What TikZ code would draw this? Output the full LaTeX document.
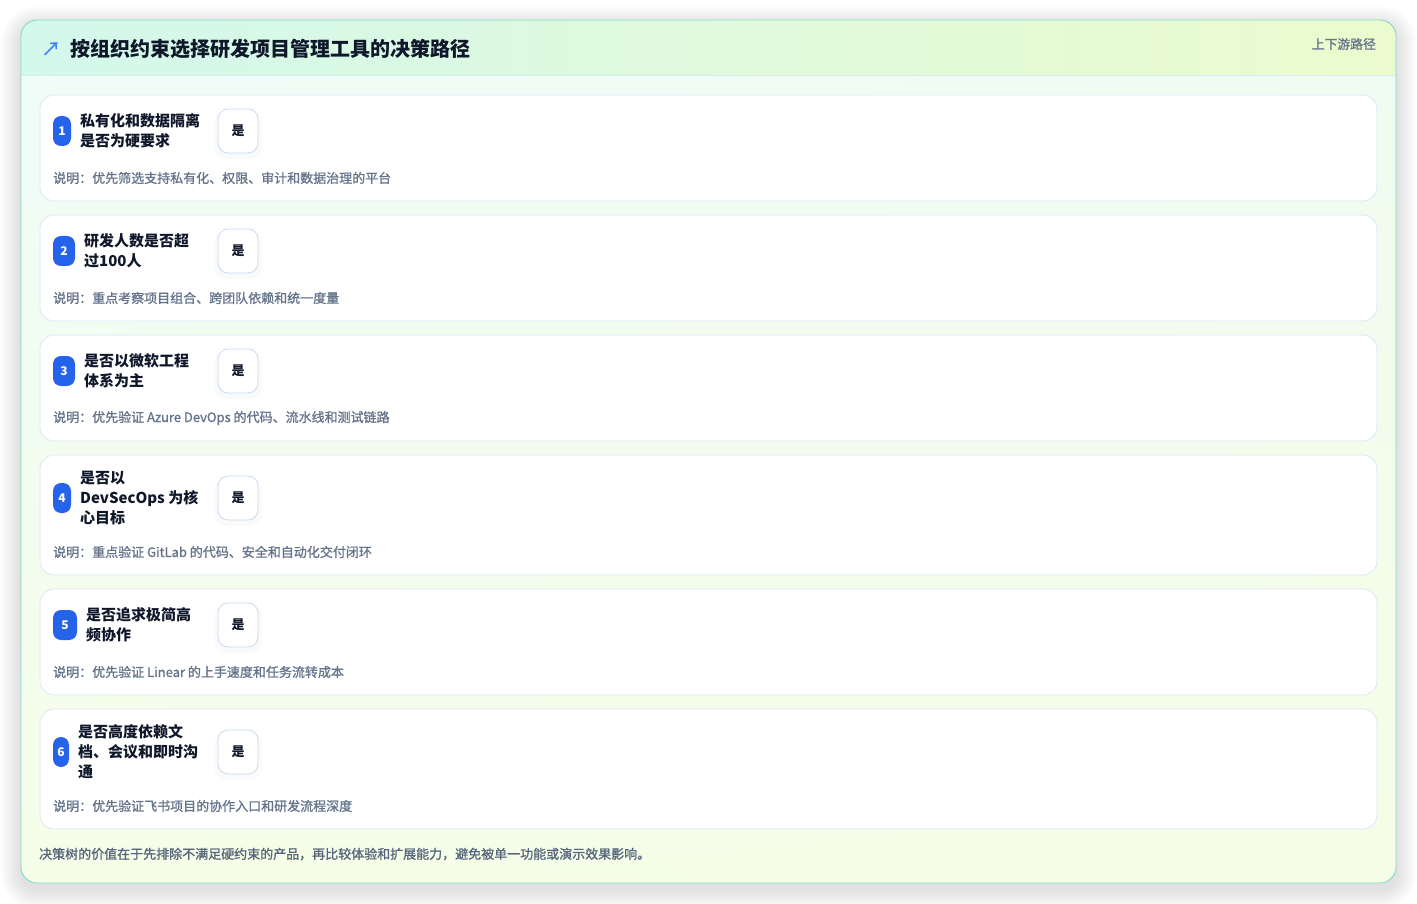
\documentclass[tikz,border=0pt]{standalone}
\usepackage{fontspec}
\setmainfont{Noto Sans CJK SC}
\newfontfamily\notefont[FakeBold=1.1]{Noto Sans CJK SC}
\usetikzlibrary{shadings}

\definecolor{cardline}{HTML}{7DDCC8}
\definecolor{headleft}{HTML}{D3F8EC}
\definecolor{headright}{HTML}{EBFBCD}
\definecolor{headline}{HTML}{D6EEF0}
\definecolor{bodytl}{HTML}{EFFCF9}
\definecolor{bodytr}{HTML}{F0FCF2}
\definecolor{bodybl}{HTML}{F6FEE8}
\definecolor{bodybr}{HTML}{F5FDE6}
\definecolor{rowline}{HTML}{DCE8F4}
\definecolor{yesline}{HTML}{C9DAF2}
\definecolor{badgeblue}{HTML}{2563EB}
\definecolor{titlecol}{HTML}{0F172A}
\definecolor{notegray}{HTML}{64748B}
\definecolor{footgray}{HTML}{56657A}
\definecolor{iconblue}{HTML}{3B82F6}

\begin{document}
\begin{tikzpicture}[x=1pt, y=-1pt, line cap=round,
    rowcard/.style={draw=rowline, fill=white, rounded corners=14pt, line width=0.8pt},
    badge/.style={fill=badgeblue, rounded corners=8pt, minimum height=30pt, inner sep=0pt,
        text=white, font=\fontsize{12}{12}\selectfont\bfseries},
    yesbox/.style={draw=yesline, fill=white, rounded corners=10pt, line width=0.8pt,
        minimum width=40pt, minimum height=44pt, inner sep=0pt,
        text=titlecol, font=\fontsize{13}{13}\selectfont\bfseries},
    yesshadow/.style={fill=black, opacity=0.018, rounded corners=12pt},
    question/.style={anchor=west, align=left, inner sep=0pt, text=titlecol,
        font=\fontsize{15}{20}\selectfont\bfseries},
    note/.style={anchor=west, inner sep=0pt, text=notegray, font=\fontsize{13}{16}\notefont}]

    \useasboundingbox (0,0) rectangle (1417,904);
    \fill[white] (0,0) rectangle (1417,904);

    % outer card with soft shadow
    \foreach \d in {2,4,...,20}
        \fill[black, opacity=0.01, rounded corners=16pt+\d pt]
            (21-\d,20-\d+6) rectangle (1396+\d,883+\d+6);
    \begin{scope}
        \clip[rounded corners=16pt] (21,20) rectangle (1396,883);
        \shade[upper left=bodytl, upper right=bodytr, lower left=bodybl, lower right=bodybr]
            (21,20) rectangle (1396,883);
        \shade[left color=headleft, right color=headright] (21,20) rectangle (1396,75);
        \draw[headline] (21,75) -- (1396,75);
    \end{scope}
    \draw[cardline, line width=0.9pt, rounded corners=16pt] (21,20) rectangle (1396,883);

    % header
    \node[text=iconblue, inner sep=0pt, font=\fontsize{19}{19}\notefont] (icon) at (51,49) {↗};
    \node[anchor=west, inner sep=0pt, text=titlecol, font=\fontsize{20}{24}\selectfont\bfseries]
        (title) at (70,49) {按组织约束选择研发项目管理工具的决策路径};
    \node[anchor=east, inner sep=0pt, text=notegray, font=\fontsize{12.8}{14}\notefont]
        (tag) at (1376,44) {上下游路径};

    % row 1
    \draw[rowcard] (40,95) rectangle (1377,201);
    \node[badge, minimum width=18pt] (b1) at (62,131) {1};
    \node[question] (q1) at (80,131) {私有化和数据隔离\\是否为硬要求};
    \fill[yesshadow] (214,111) rectangle (262,159);
    \node[yesbox] (y1) at (238,131) {是};
    \node[note] (n1) at (53,178) {说明：优先筛选支持私有化、权限、审计和数据治理的平台};

    % row 2
    \draw[rowcard] (40,215) rectangle (1377,321);
    \node[badge, minimum width=22pt] (b2) at (64,251) {2};
    \node[question] (q2) at (84,251) {研发人数是否超\\过100人};
    \fill[yesshadow] (214,231) rectangle (262,279);
    \node[yesbox] (y2) at (238,251) {是};
    \node[note] (n2) at (53,298) {说明：重点考察项目组合、跨团队依赖和统一度量};

    % row 3
    \draw[rowcard] (40,335) rectangle (1377,441);
    \node[badge, minimum width=22pt] (b3) at (64,371) {3};
    \node[question] (q3) at (84,371) {是否以微软工程\\体系为主};
    \fill[yesshadow] (214,351) rectangle (262,399);
    \node[yesbox] (y3) at (238,371) {是};
    \node[note] (n3) at (53,418) {说明：优先验证 Azure DevOps 的代码、流水线和测试链路};

    % row 4
    \draw[rowcard] (40,455) rectangle (1377,575);
    \node[badge, minimum width=18pt] (b4) at (62,498) {4};
    \node[question] (q4) at (80,498) {是否以\\DevSecOps 为核\\心目标};
    \fill[yesshadow] (214,478) rectangle (262,526);
    \node[yesbox] (y4) at (238,498) {是};
    \node[note] (n4) at (53,552) {说明：重点验证 GitLab 的代码、安全和自动化交付闭环};

    % row 5
    \draw[rowcard] (40,589) rectangle (1377,695);
    \node[badge, minimum width=24pt] (b5) at (65,625) {5};
    \node[question] (q5) at (86,625) {是否追求极简高\\频协作};
    \fill[yesshadow] (214,605) rectangle (262,653);
    \node[yesbox] (y5) at (238,625) {是};
    \node[note] (n5) at (53,672) {说明：优先验证 Linear 的上手速度和任务流转成本};

    % row 6
    \draw[rowcard] (40,709) rectangle (1377,829);
    \node[badge, minimum width=16pt] (b6) at (61,752) {6};
    \node[question] (q6) at (78,752) {是否高度依赖文\\档、会议和即时沟\\通};
    \fill[yesshadow] (214,732) rectangle (262,780);
    \node[yesbox] (y6) at (238,752) {是};
    \node[note] (n6) at (53,806) {说明：优先验证飞书项目的协作入口和研发流程深度};

    % footer
    \node[anchor=west, inner sep=0pt, text=footgray, font=\fontsize{13}{16}\notefont] (foot) at (39,854)
        {决策树的价值在于先排除不满足硬约束的产品，再比较体验和扩展能力，避免被单一功能或演示效果影响。};

\end{tikzpicture}
\end{document}
